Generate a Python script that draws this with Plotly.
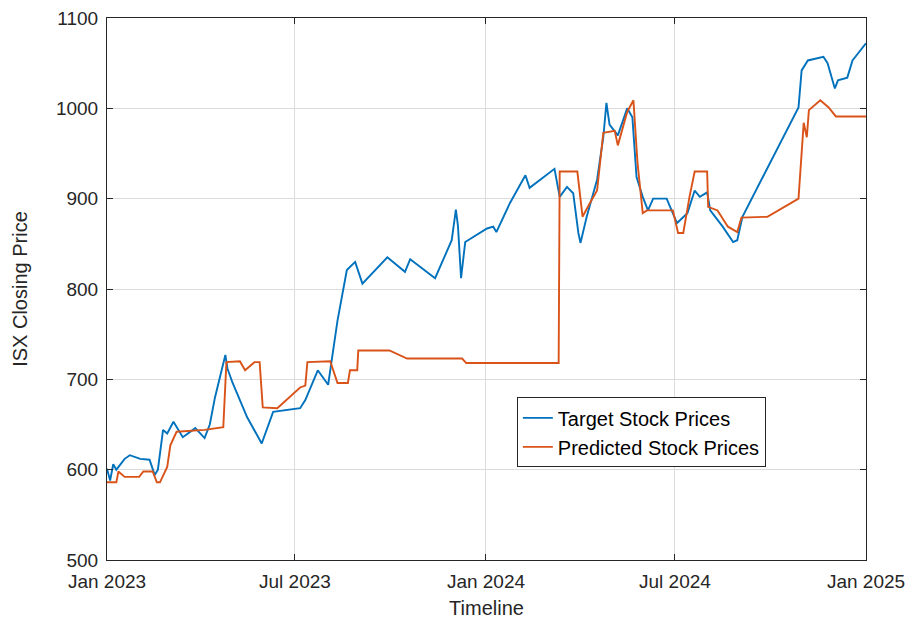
import plotly.graph_objects as go

# ISX closing price: actual (target) values
target_dates = [
    "2023-01-01", "2023-01-04", "2023-01-07", "2023-01-10", "2023-01-18", "2023-01-23",
    "2023-02-02", "2023-02-11", "2023-02-16", "2023-02-19", "2023-02-24", "2023-02-28",
    "2023-03-06", "2023-03-10", "2023-03-15", "2023-03-27", "2023-04-05", "2023-04-10",
    "2023-04-15", "2023-04-25", "2023-04-27", "2023-05-02", "2023-05-16", "2023-05-30",
    "2023-06-10", "2023-07-06", "2023-07-11", "2023-07-23", "2023-08-02", "2023-08-04",
    "2023-08-11", "2023-08-20", "2023-08-28", "2023-09-04", "2023-09-28", "2023-10-15",
    "2023-10-20", "2023-11-13", "2023-11-29", "2023-12-03", "2023-12-05", "2023-12-08",
    "2023-12-12", "2024-01-02", "2024-01-08", "2024-01-11", "2024-01-24", "2024-02-08",
    "2024-02-12", "2024-03-07", "2024-03-12", "2024-03-19", "2024-03-25", "2024-03-30",
    "2024-04-01", "2024-04-07", "2024-04-17", "2024-04-23", "2024-04-26", "2024-04-29",
    "2024-05-07", "2024-05-16", "2024-05-21", "2024-05-25", "2024-05-31", "2024-06-05",
    "2024-06-10", "2024-06-23", "2024-06-28", "2024-07-03", "2024-07-13", "2024-07-20",
    "2024-07-25", "2024-08-01", "2024-08-04", "2024-08-16", "2024-08-26", "2024-08-30",
    "2024-09-04", "2024-10-28", "2024-10-31", "2024-11-06", "2024-11-21", "2024-11-25",
    "2024-12-02", "2024-12-05", "2024-12-14", "2024-12-19", "2025-01-01",
]
target_prices = [
    601, 588, 606, 600, 612, 616,
    612, 611, 594, 600, 644, 640,
    653, 645, 636, 646, 635, 650,
    680, 727, 712, 696, 658, 629,
    664, 668, 677, 710, 694, 710,
    765, 821, 830, 806, 835, 819,
    833, 812, 854, 888, 870, 812,
    852, 867, 869, 863, 895, 926,
    912, 933, 902, 913, 906, 862,
    851, 880, 921, 968, 1006, 982,
    970, 1000, 990, 924, 902, 887,
    900, 900, 887, 873, 884, 909,
    902, 907, 887, 869, 852, 854,
    880, 1001, 1042, 1053, 1057, 1050,
    1022, 1031, 1034, 1053, 1072,
]

# Model output (predicted) values
pred_dates = [
    "2023-01-01", "2023-01-10", "2023-01-12", "2023-01-18", "2023-02-01", "2023-02-05",
    "2023-02-14", "2023-02-18", "2023-02-21", "2023-02-28", "2023-03-03", "2023-03-09",
    "2023-04-05", "2023-04-23", "2023-04-26", "2023-05-09", "2023-05-14", "2023-05-23",
    "2023-05-28", "2023-05-31", "2023-06-14", "2023-07-06", "2023-07-11", "2023-07-13",
    "2023-08-04", "2023-08-11", "2023-08-21", "2023-08-23", "2023-08-30", "2023-08-31",
    "2023-09-30", "2023-10-17", "2023-12-09", "2023-12-13", "2024-03-11", "2024-03-12",
    "2024-03-29", "2024-04-03", "2024-04-10", "2024-04-17", "2024-04-23", "2024-05-04",
    "2024-05-07", "2024-05-16", "2024-05-22", "2024-05-26", "2024-05-31", "2024-06-04",
    "2024-06-29", "2024-07-04", "2024-07-09", "2024-07-15", "2024-07-20", "2024-08-01",
    "2024-08-02", "2024-08-11", "2024-08-21", "2024-08-30", "2024-09-03", "2024-09-28",
    "2024-10-28", "2024-10-31", "2024-11-02", "2024-11-05", "2024-11-07", "2024-11-18",
    "2024-11-26", "2024-12-03", "2025-01-01",
]
pred_prices = [
    586, 586, 598, 592, 592, 598,
    598, 586, 586, 603, 627, 642,
    644, 647, 719, 720, 710, 719,
    719, 669, 668, 691, 693, 719,
    720, 696, 696, 710, 710, 732,
    732, 723, 723, 718, 718, 930,
    930, 880, 895, 909, 973, 975,
    959, 996, 1009, 939, 884, 887,
    887, 862, 862, 902, 930, 930,
    891, 887, 869, 863, 879, 880,
    900, 946, 984, 968, 998, 1009,
    1001, 991, 991,
]

x_tick_vals = ["2023-01-01", "2023-07-01", "2024-01-01", "2024-07-01", "2025-01-01"]
x_tick_text = ["Jan 2023", "Jul 2023", "Jan 2024", "Jul 2024", "Jan 2025"]
y_tick_vals = [500, 600, 700, 800, 900, 1000, 1100]

BLUE = "#0072BD"
ORANGE = "#D95319"
INK = "#262626"
FONT = "Liberation Sans, Arial, sans-serif"

fig = go.Figure()
fig.add_trace(go.Scatter(
    x=target_dates, y=target_prices, mode="lines", name="Target Stock Prices",
    line=dict(color=BLUE, width=1.9),
))
fig.add_trace(go.Scatter(
    x=pred_dates, y=pred_prices, mode="lines", name="Predicted Stock Prices",
    line=dict(color=ORANGE, width=1.9),
))

axis_common = dict(
    showline=True, linecolor=INK, linewidth=1, mirror="ticks",
    ticks="inside", ticklen=6, tickcolor=INK,
    showgrid=True, gridcolor="#dcdcdc", gridwidth=1,
    zeroline=False, automargin=False,
    tickfont=dict(family=FONT, size=19, color=INK),
)

fig.update_layout(
    width=917, height=622,
    margin=dict(l=107, r=51, t=18, b=62),
    paper_bgcolor="white", plot_bgcolor="white",
    font=dict(family=FONT, color=INK),
    xaxis=dict(
        **axis_common,
        type="date",
        range=["2023-01-01", "2025-01-01"],
        tickvals=x_tick_vals, ticktext=x_tick_text,
        ticklabelstandoff=4,
        title=dict(text="Timeline", font=dict(family=FONT, size=20, color=INK), standoff=10),
    ),
    yaxis=dict(
        **axis_common,
        range=[500, 1100],
        tickvals=y_tick_vals,
        ticklabelstandoff=4,
        title=dict(text="ISX Closing Price", font=dict(family=FONT, size=20, color=INK), standoff=22),
    ),
    legend=dict(
        x=0.54, y=0.3, xanchor="left", yanchor="top",
        bgcolor="white", bordercolor=INK, borderwidth=1,
        font=dict(family=FONT, size=20, color="#000000"),
        itemwidth=30, tracegroupgap=0,
        entrywidth=290, entrywidthmode="pixels",
    ),
    showlegend=True,
)

fig.write_html("out.html")
